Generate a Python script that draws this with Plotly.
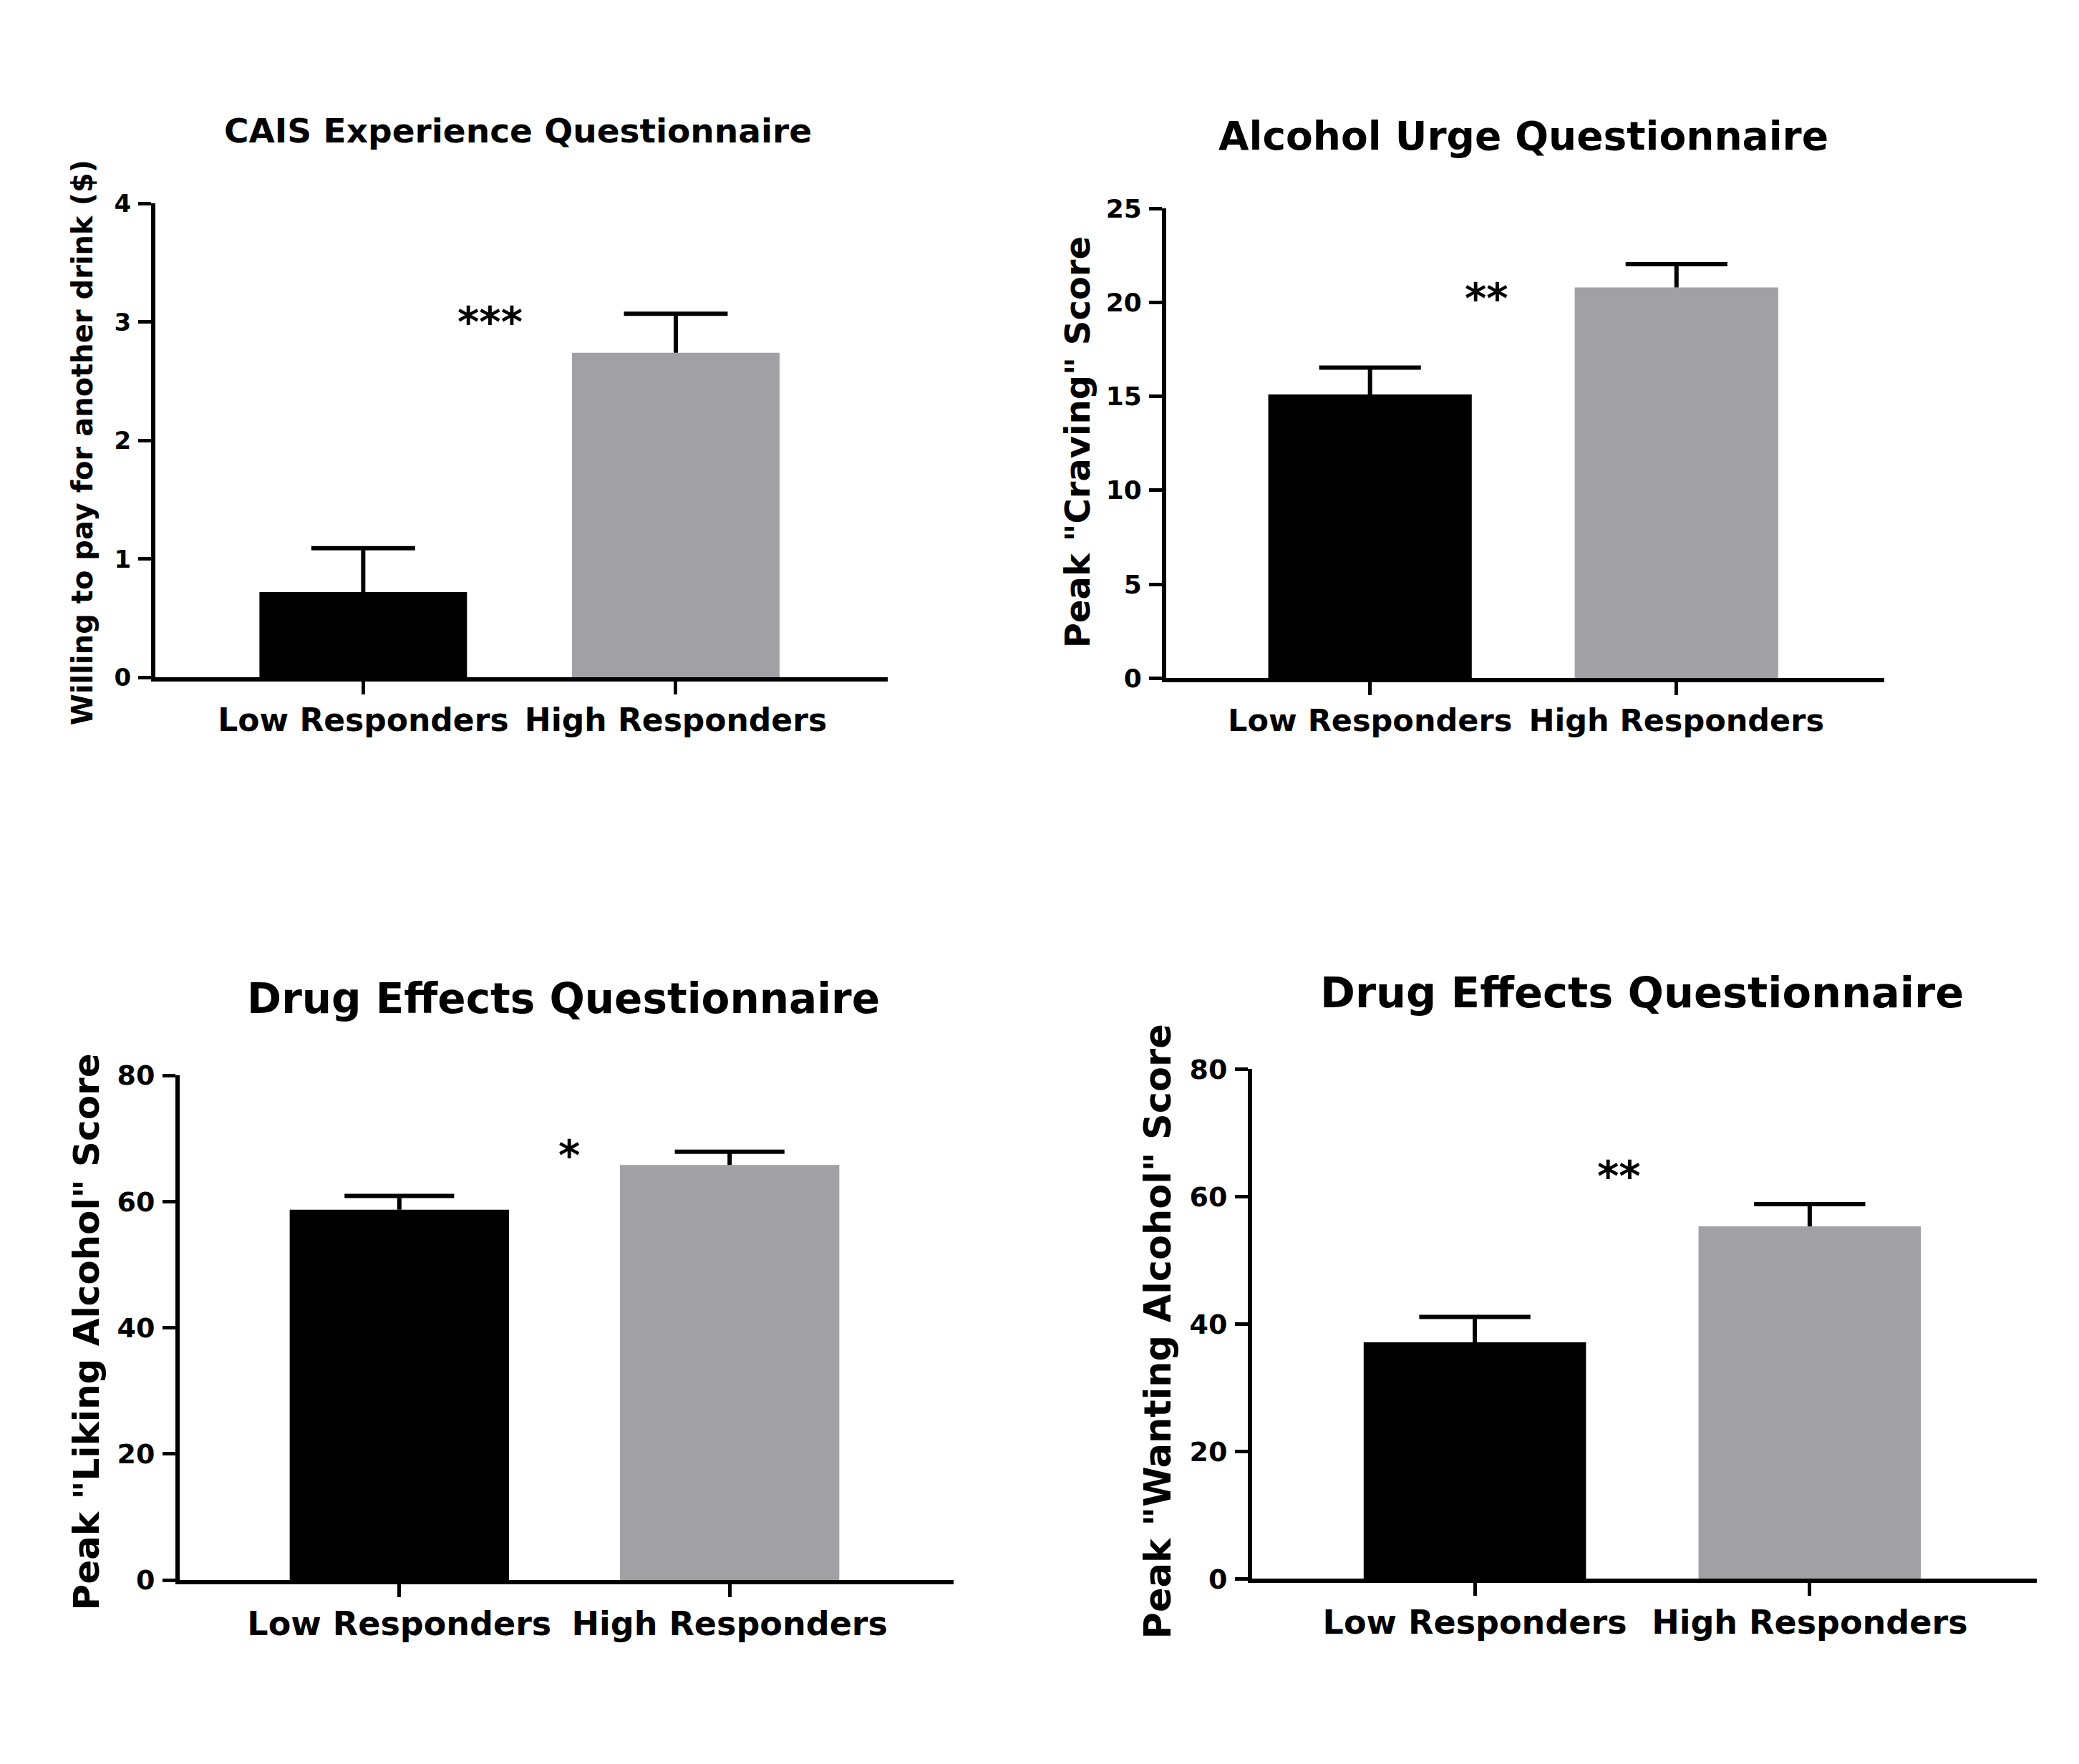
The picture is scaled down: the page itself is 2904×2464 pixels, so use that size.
import plotly.graph_objects as go

# groups shown in every panel
categories = ["Low Responders", "High Responders"]
bar_colors = ["#000000", "#A1A1A5"]

# CAIS experience questionnaire
cais_mean = [0.72, 2.74]
cais_sem = [0.37, 0.33]

# Alcohol urge questionnaire
urge_mean = [15.1, 20.8]
urge_sem = [1.43, 1.24]

# Drug effects questionnaire - liking
liking_mean = [58.7, 65.8]
liking_sem = [2.2, 2.1]

# Drug effects questionnaire - wanting
wanting_mean = [37.1, 55.3]
wanting_sem = [4.0, 3.5]

titles = [
    "CAIS Experience Questionnaire",
    "Alcohol Urge Questionnaire",
    "Drug Effects Questionnaire",
    "Drug Effects Questionnaire",
]
y_titles = [
    "Willing to pay for another drink ($)",
    'Peak "Craving" Score',
    'Peak "Liking Alcohol" Score',
    'Peak "Wanting Alcohol" Score',
]
y_max = [4, 25, 80, 80]
y_step = [1, 5, 20, 20]
stars = ["***", "**", "*", "**"]

W, H = 2888, 2448  # body keeps its 8px margin


def px(x):
    return (x - 8) / W


def py(y):
    return 1 - (y - 8) / H


FONT = "DejaVu Sans"

# pixel boxes of the four plot areas: left, right, top, bottom
boxes = [
    (217, 1240, 267, 941),
    (1629, 2632, 274, 942),
    (251, 1332, 1507, 2225),
    (1749, 2845, 1498, 2223),
]
title_pos = [(723, 163, 47), (2128, 171, 55), (787, 1398, 58), (2293, 1389, 59)]
ytitle_pos = [(115, 607, 40), (1505, 607, 48), (121, 1872, 50), (1617, 1872, 51)]
star_pos = [(0.405, 3.03), (0.38, 20.4), (0.515, 67.9), (0.43, 63.7)]
xtick_size = [44, 43, 46, 46]
ytick_size = [34, 36, 38, 38]

panels = [
    (cais_mean, cais_sem),
    (urge_mean, urge_sem),
    (liking_mean, liking_sem),
    (wanting_mean, wanting_sem),
]

BAR_W = 0.664
CAP = BAR_W / 4

fig = go.Figure()
layout = dict(
    width=W,
    height=H,
    margin=dict(l=0, r=0, t=0, b=0),
    paper_bgcolor="white",
    plot_bgcolor="white",
    showlegend=False,
    barmode="overlay",
    font=dict(family=FONT, color="black", weight="bold"),
)
annotations = []

for k, (means, sems) in enumerate(panels):
    n = "" if k == 0 else str(k + 1)
    xs = list(range(len(categories)))

    fig.add_trace(go.Bar(
        x=xs, y=means, width=BAR_W,
        marker=dict(color=bar_colors, line=dict(width=0)),
        xaxis="x" + n, yaxis="y" + n,
    ))

    # one-sided (upper) SEM bars
    ex, ey = [], []
    for i, (m, e) in enumerate(zip(means, sems)):
        ex += [i, i, None, i - CAP, i + CAP, None]
        ey += [m, m + e, None, m + e, m + e, None]
    fig.add_trace(go.Scatter(
        x=ex, y=ey, mode="lines",
        line=dict(color="black", width=6),
        xaxis="x" + n, yaxis="y" + n, hoverinfo="skip",
    ))

    left, right, top, bottom = boxes[k]
    layout["xaxis" + n] = dict(
        domain=[px(left), px(right)],
        anchor="y" + n,
        range=[-0.665, 1.678],
        tickvals=xs, ticktext=categories,
        showline=True, linewidth=6, linecolor="black",
        ticks="outside", ticklen=18, tickwidth=5, tickcolor="black",
        showgrid=False, zeroline=False,
        ticklabelstandoff=-2,
        tickfont=dict(family=FONT, size=xtick_size[k], color="black", weight="bold"),
    )
    layout["yaxis" + n] = dict(
        domain=[py(bottom), py(top)],
        anchor="x" + n,
        range=[0, y_max[k]],
        tickvals=list(range(0, y_max[k] + 1, y_step[k])),
        showline=True, linewidth=6, linecolor="black",
        ticks="outside", ticklen=18, tickwidth=5, tickcolor="black",
        showgrid=False, zeroline=False,
        ticklabelstandoff=3,
        tickfont=dict(family=FONT, size=ytick_size[k], color="black", weight="bold"),
    )

    tx, ty, ts = title_pos[k]
    annotations.append(dict(
        text=titles[k], x=px(tx), y=py(ty), xref="paper", yref="paper",
        xanchor="center", yanchor="middle", showarrow=False,
        font=dict(family=FONT, size=ts, color="black", weight="bold"),
    ))
    yx, yy, ys = ytitle_pos[k]
    annotations.append(dict(
        text=y_titles[k], x=px(yx), y=py(yy), xref="paper", yref="paper",
        xanchor="center", yanchor="middle", textangle=-90, showarrow=False,
        font=dict(family=FONT, size=ys, color="black", weight="bold"),
    ))
    sx, sy = star_pos[k]
    annotations.append(dict(
        text=stars[k], x=sx, y=sy, xref="x" + n, yref="y" + n,
        xanchor="center", yanchor="middle", yshift=-5, showarrow=False,
        font=dict(family=FONT, size=58, color="black", weight="bold"),
    ))

layout["annotations"] = annotations
fig.update_layout(**layout)

fig.write_html("out.html")
